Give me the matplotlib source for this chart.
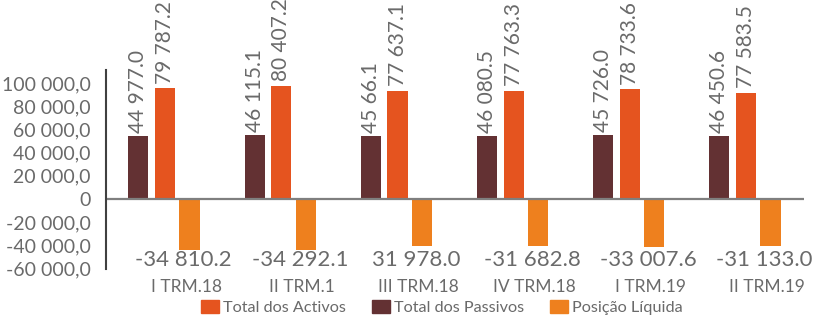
import matplotlib
matplotlib.use('Agg')
import matplotlib.pyplot as plt
from matplotlib.patches import Patch

plt.rcParams['font.family'] = ['Lato', 'DejaVu Sans']

# Data
categories = ['I TRM.18', 'II TRM.1', 'III TRM.18', 'IV TRM.18', 'I TRM.19', 'II TRM.19']
passivos = [54300, 55200, 54300, 54300, 54900, 54300]
activos = [95400, 97400, 93100, 93100, 94600, 91600]
posicao = [-44000, -44000, -40300, -40300, -41600, -40300]

# data labels as printed on the chart
passivos_lbl = ['44 977.0', '46 115.1', '45 66.1', '46 080.5', '45 726.0', '46 450.6']
activos_lbl = ['79 787.2', '80 407.2', '77 637.1', '77 763.3', '78 733.6', '77 583.5']
posicao_lbl = ['-34 810.2', '-34 292.1', '31 978.0', '-31 682.8', '-33 007.6', '-31 133.0']

yticks = [-60000, -40000, -20000, 0, 20000, 40000, 60000, 80000, 100000]
ytick_lbl = ['-60 000,0', '-40 000,0', '-20 000,0', '0', '20 000,0', '40 000,0',
             '60 000,0', '80 000,0', '100 000,0']

c_act = '#E5541F'
c_pas = '#633133'
c_pos = '#EE801E'
c_txt = '#6a6a6a'

fig = plt.figure(figsize=(8.14, 3.19), dpi=100)
ax = fig.add_axes([0.130, 0.158, 0.858, 0.6226])

x = list(range(len(categories)))
w = 0.173
ax.bar([i - 0.22 for i in x], passivos, w, color=c_pas)
ax.bar([i + 0.01 for i in x], activos, w, color=c_act)
ax.bar([i + 0.22 for i in x], posicao, w, color=c_pos)

for i in x:
    ax.text(i - 0.22, passivos[i] + 2500, passivos_lbl[i], rotation=90, ha='center', va='bottom',
            fontsize=15, color=c_txt)
    ax.text(i + 0.01, activos[i] + 4000, activos_lbl[i], rotation=90, ha='center', va='bottom',
            fontsize=15, color=c_txt)
    ax.text(i + 0.17, -52600, posicao_lbl[i], ha='center', va='center', fontsize=16, color=c_txt)
    ax.text(i + 0.19, -75500, categories[i], ha='center', va='center', fontsize=12.5, color=c_txt)

ax.axhline(0, color='#7f7f7f', lw=1.6)
ax.set_xlim(-0.5, 5.51)
ax.set_ylim(-60000, 111200)
ax.set_xticks([])
ax.set_yticks(yticks)
ax.set_yticklabels(ytick_lbl)
ax.tick_params(axis='y', length=0, pad=11, labelsize=14, labelcolor=c_txt)
for s in ['top', 'right', 'bottom']:
    ax.spines[s].set_visible(False)
ax.spines['left'].set_color('#404040')
ax.spines['left'].set_linewidth(1.5)

handles = [Patch(color=c_act, label='Total dos Activos'),
           Patch(color=c_pas, label='Total dos Passivos'),
           Patch(color=c_pos, label='Posição Líquida')]
leg = fig.legend(handles=handles, loc='center', bbox_to_anchor=(0.543, 0.037), ncol=3, frameon=False,
                 fontsize=11.7, handlelength=1.1, handleheight=0.9, handletextpad=0.25, columnspacing=1.6)
for t in leg.get_texts():
    t.set_color(c_txt)

fig.savefig('out.png', dpi=100)
